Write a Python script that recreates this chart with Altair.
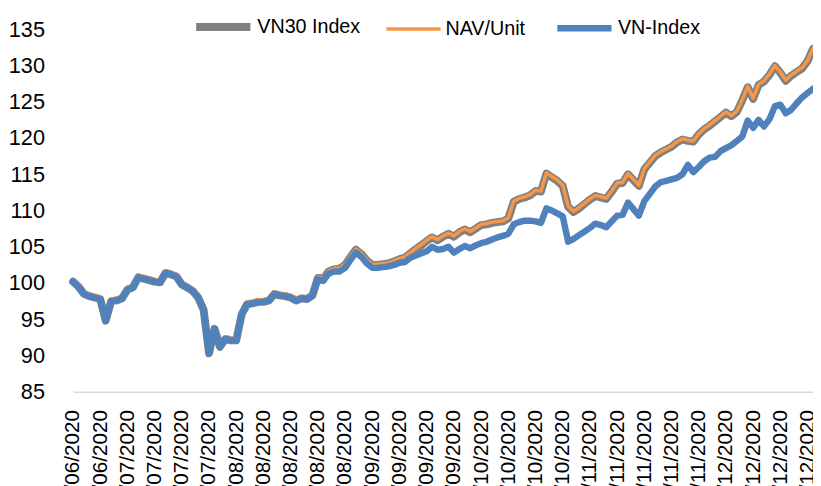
import altair as alt
import pandas as pd

series_names = ["VN30 Index", "NAV/Unit", "VN-Index"]
series_colors = ["#808080", "#F79646", "#4F81BD"]
series_widths = [8, 3.5, 6.5]

# tick labels (every 5th trading day)
tick_labels = ["22/06/2020", "29/06/2020", "06/07/2020", "13/07/2020", "20/07/2020",
               "27/07/2020", "03/08/2020", "10/08/2020", "17/08/2020", "24/08/2020",
               "31/08/2020", "07/09/2020", "14/09/2020", "21/09/2020", "28/09/2020",
               "05/10/2020", "12/10/2020", "19/10/2020", "26/10/2020", "02/11/2020",
               "09/11/2020", "16/11/2020", "23/11/2020", "30/11/2020", "07/12/2020",
               "14/12/2020", "21/12/2020", "28/12/2020"]

vn30 = [100.2, 99.5, 98.5, 98.2, 98.0, 97.8, 94.8, 97.5, 97.6, 97.9,
        99.1, 99.4, 100.8, 100.6, 100.4, 100.2, 100.1, 101.4, 101.2, 100.9,
        99.8, 99.4, 98.9, 98.0, 96.3, 90.3, 93.7, 91.2, 92.3, 92.1,
        92.1, 95.7, 97.1, 97.2, 97.4, 97.4, 97.6, 98.5, 98.3, 98.2,
        98.0, 97.6, 97.9, 97.8, 98.3,
        100.7, 100.6, 101.6, 101.9, 102.0, 102.5, 103.6, 104.6, 104.0, 103.1,
        102.5, 102.5, 102.6, 102.7, 103.0, 103.3, 103.5, 104.1,
        104.7, 105.2, 105.8, 106.3, 105.9, 106.4, 106.8, 106.4, 107.0, 107.4,
        107.0, 107.5, 108.0, 108.1, 108.3, 108.4, 108.5, 108.9,
        111.2, 111.6, 111.8, 112.1, 112.7, 112.6,
        115.1, 114.6, 114.1, 113.4,
        110.5, 109.8, 110.3, 110.9, 111.5, 112.0,
        111.8, 111.6, 112.6, 113.7, 113.8, 115.0,
        114.2, 113.4,
        115.7, 116.6, 117.5, 118.0, 118.4, 118.8,
        119.4, 119.8, 119.6, 119.5,
        120.5, 121.2, 121.7, 122.3,
        122.9, 123.5,
        123.0, 123.6,
        125.2, 127.0,
        125.4, 127.3,
        127.8, 128.7, 129.9,
        129.0, 127.9,
        128.6, 129.1, 129.6, 130.6, 132.3]

nav = [100.4, 99.8, 98.8, 98.5, 98.3, 98.1, 95.0, 97.8, 97.9, 98.2,
       99.4, 99.7, 101.1, 100.9, 100.7, 100.5, 100.4, 101.7, 101.5, 101.2,
       100.1, 99.7, 99.2, 98.3, 96.6, 90.5, 94.0, 91.5, 92.6, 92.4,
       92.4, 96.0, 97.4, 97.5, 97.7, 97.7, 97.9, 98.8, 98.6, 98.5,
       98.3, 97.9, 98.2, 98.1, 98.6,
       100.8, 100.7, 101.7, 102.0, 102.1, 102.6, 103.7, 104.7, 104.1, 103.2,
       102.6, 102.6, 102.7, 102.8, 103.1, 103.4, 103.6, 104.2,
       104.8, 105.3, 105.9, 106.4, 106.0, 106.5, 106.9, 106.5, 107.1, 107.5,
       107.1, 107.6, 108.1, 108.2, 108.4, 108.5, 108.6, 109.0,
       111.3, 111.7, 111.9, 112.2, 112.8, 112.7,
       115.2, 114.7, 114.2, 113.5,
       110.6, 109.9, 110.4, 111.0, 111.6, 112.1,
       111.9, 111.7, 112.7, 113.8, 113.9, 115.1,
       114.3, 113.5,
       115.8, 116.7, 117.6, 118.1, 118.5, 118.9,
       119.5, 119.9, 119.7, 119.6,
       120.6, 121.3, 121.8, 122.4,
       123.0, 123.6,
       123.1, 123.7,
       125.3, 127.1,
       125.5, 127.4,
       127.9, 128.8, 130.0,
       129.1, 128.0,
       128.7, 129.2, 129.7, 130.7, 132.4]

vnindex = [100.2, 99.5, 98.5, 98.2, 98.0, 97.8, 94.8, 97.5, 97.6, 97.9,
           99.1, 99.4, 100.8, 100.6, 100.4, 100.2, 100.1, 101.4, 101.2, 100.9,
           99.8, 99.4, 98.9, 98.0, 96.3, 90.3, 93.7, 91.2, 92.3, 92.1,
           92.1, 95.7, 97.1, 97.2, 97.4, 97.4, 97.6, 98.5, 98.3, 98.2,
           98.0, 97.6, 97.9, 97.8, 98.3,
           100.5, 100.3, 101.3, 101.6, 101.6, 102.1, 103.2, 104.2, 103.6, 102.7,
           102.1, 102.1, 102.2, 102.3, 102.5, 102.8, 102.9, 103.5,
           103.8, 104.1, 104.4, 105.0, 104.6, 104.7, 105.0, 104.2, 104.7, 105.1,
           104.8, 105.2, 105.5, 105.7, 106.0, 106.3, 106.5, 106.8,
           108.1, 108.4, 108.6, 108.6, 108.5, 108.3,
           110.3, 110.0, 109.6, 109.2,
           105.7, 106.1, 106.6, 107.1, 107.6, 108.2,
           108.0, 107.7, 108.5, 109.3, 109.4, 111.1,
           110.2, 109.3,
           111.3, 112.3, 113.3, 113.9, 114.1, 114.3,
           114.5, 115.0, 116.3, 115.3,
           116.0, 116.8, 117.3, 117.4,
           118.2, 118.6,
           119.0, 119.6,
           120.2, 122.4,
           121.4, 122.5,
           121.6, 122.6, 124.4,
           124.6, 123.4,
           123.9, 124.8, 125.6, 126.2, 126.8]

rows = []
for name, vals in zip(series_names, [vn30, nav, vnindex]):
    for i, v in enumerate(vals):
        rows.append({"day": i, "value": v, "series": name})
df = pd.DataFrame(rows)

FONT = "Liberation Sans, Arial, sans-serif"

label_js = "[" + ",".join("'%s'" % t for t in tick_labels) + "]"

legend = alt.Legend(orient="none", legendX=121, legendY=-34, direction="horizontal",
                    title=None, symbolType="stroke", symbolSize=3025,
                    labelFont=FONT, labelFontSize=20, labelColor="black",
                    labelOffset=3, columnPadding=19, padding=0)

color = alt.Color("series:N", scale=alt.Scale(domain=series_names, range=series_colors),
                  legend=legend)
swidth = alt.StrokeWidth("series:N",
                         scale=alt.Scale(type="ordinal", domain=series_names, range=series_widths),
                         legend=legend)

x = alt.X("day:Q", scale=alt.Scale(domain=[0, 136], nice=False, zero=False),
          axis=alt.Axis(values=list(range(0, 136, 5)),
                        labelExpr=label_js + "[round(datum.value/5)]",
                        labelAngle=-90, labelAlign="right", labelBaseline="middle",
                        labelFont=FONT, labelFontSize=21, labelColor="black",
                        labelPadding=18, labelOverlap=False, labelFlush=False,
                        ticks=False, grid=False, domainColor="#D9D9D9", domainWidth=1.5,
                        title=None))
y = alt.Y("value:Q", scale=alt.Scale(domain=[85, 135], nice=False, zero=False),
          axis=alt.Axis(values=list(range(85, 136, 5)), ticks=False, domain=False,
                        grid=False, labelFont=FONT, labelFontSize=22, labelColor="black",
                        labelPadding=29, title=None))

layers = []
for name in series_names:
    layers.append(
        alt.Chart(df).transform_filter(alt.datum.series == name)
        .mark_line(strokeJoin="round", strokeCap="round")
        .encode(x=x, y=y, color=color, strokeWidth=swidth)
    )

chart = alt.layer(*layers).properties(
    width=751, height=368,
    autosize=alt.AutoSizeParams(type="none"),
    padding={"left": 66, "top": 18, "right": 0, "bottom": 92},
).configure_view(stroke=None)

chart.save("out.html", embed_options={"renderer": "svg", "actions": False})
